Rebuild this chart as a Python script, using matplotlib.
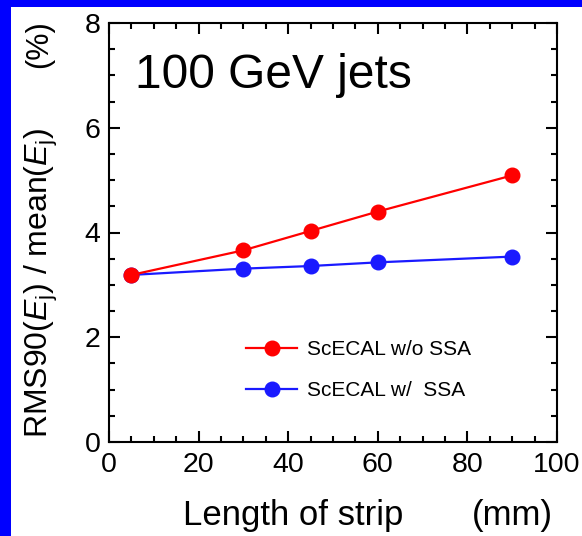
import matplotlib
matplotlib.use("Agg")
import matplotlib.pyplot as plt
from matplotlib.patches import Rectangle
from matplotlib.ticker import MultipleLocator

plt.rcParams['font.family'] = ['Liberation Sans', 'DejaVu Sans']
plt.rcParams['mathtext.fontset'] = 'custom'
plt.rcParams['mathtext.rm'] = 'Liberation Sans'
plt.rcParams['mathtext.it'] = 'Liberation Sans:italic'

# Strip length (mm) and jet energy resolution (%)
strip_length = [5, 30, 45, 60, 90]
res_without_ssa = [3.19, 3.66, 4.03, 4.40, 5.09]
res_with_ssa = [3.19, 3.31, 3.36, 3.43, 3.54]
series_labels = ["ScECAL w/o SSA", "ScECAL w/  SSA"]

W, H = 582, 536
fig = plt.figure(figsize=(W / 100, H / 100), dpi=100)
fig.patch.set_facecolor("white")

# blue frame strips along the top and left edges
fig.patches.append(Rectangle((0, 0), 11 / W, 1, transform=fig.transFigure,
                             facecolor="#0000ff", edgecolor="none", zorder=0))
fig.patches.append(Rectangle((0, 1 - 7 / H), 1, 7 / H, transform=fig.transFigure,
                             facecolor="#0000ff", edgecolor="none", zorder=0))

x0, x1, y0, y1 = 109, 557, 23, 442
ax = fig.add_axes([x0 / W, 1 - y1 / H, (x1 - x0) / W, (y1 - y0) / H])

ax.plot(strip_length, res_with_ssa, color="#1a1aff", lw=1.6, marker="o",
        ms=10.5, mec="#1a1aff", mfc="#1a1aff", label=series_labels[1], zorder=3)
ax.plot(strip_length, res_without_ssa, color="#ff0000", lw=1.6, marker="o",
        ms=10.5, mec="#ff0000", mfc="#ff0000", label=series_labels[0], zorder=4)

ax.set_xlim(0, 100)
ax.set_ylim(0, 8)
ax.xaxis.set_major_locator(MultipleLocator(20))
ax.xaxis.set_minor_locator(MultipleLocator(5))
ax.yaxis.set_major_locator(MultipleLocator(2))
ax.yaxis.set_minor_locator(MultipleLocator(0.5))
ax.tick_params(which="both", direction="in", top=True, right=True,
               labelsize=20.5, width=1.5)
ax.tick_params(which="major", length=8)
ax.tick_params(which="minor", length=4)
ax.tick_params(axis="x", which="major", pad=7)
ax.tick_params(axis="y", which="major", pad=6)
for s in ax.spines.values():
    s.set_linewidth(1.5)

ax.text(135 / W, 1 - 75 / H, "100 GeV jets", transform=fig.transFigure,
        fontsize=34.5, ha="left", va="center")

handles, labels = ax.get_legend_handles_labels()
leg = ax.legend(handles[::-1], labels[::-1], loc="center left",
                bbox_to_anchor=(246 / W, 1 - 370 / H), bbox_transform=fig.transFigure,
                frameon=False, fontsize=15, handlelength=2.45,
                handletextpad=0.5, labelspacing=1.05, borderpad=0,
                borderaxespad=0)

fig.text(183 / W, 1 - 515 / H, "Length of strip", fontsize=25,
         ha="left", va="center")
fig.text(553 / W, 1 - 515 / H, "(mm)", fontsize=25,
         ha="right", va="center")
fig.text(41 / W, 1 - 283 / H, r"RMS90($E_\mathrm{j}$) / mean($E_\mathrm{j}$)",
         fontsize=23, rotation=90, ha="center", va="center")
fig.text(39 / W, 1 - 44 / H, "(%)", fontsize=22, rotation=90,
         ha="center", va="center")

fig.savefig("out.png", dpi=100)
